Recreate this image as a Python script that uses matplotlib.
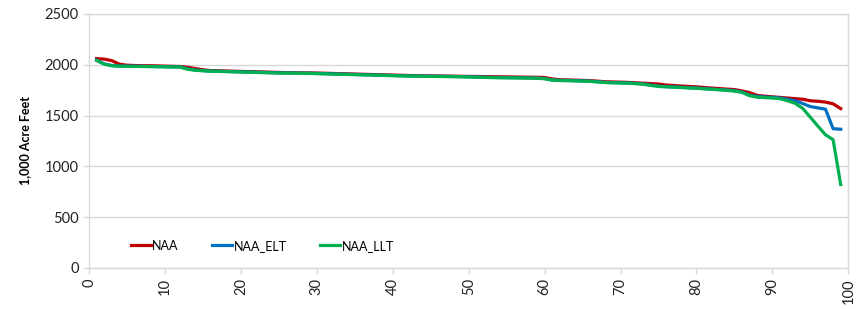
import matplotlib.pyplot as plt

# exceedance rank (1..99)
rank = list(range(1, 100))

naa = [2060, 2055, 2040, 2005, 1995, 1992, 1990, 1990, 1988, 1986,
       1984, 1982, 1975, 1962, 1950, 1942, 1940, 1938, 1936, 1934,
       1932, 1930, 1928, 1926, 1924, 1922, 1921, 1920, 1919, 1918,
       1916, 1914, 1912, 1910, 1908, 1906, 1904, 1902, 1900, 1898,
       1896, 1894, 1892, 1891, 1890, 1889, 1888, 1887, 1886, 1885,
       1884, 1883, 1882, 1881, 1880, 1879, 1878, 1877, 1876, 1874,
       1860, 1852, 1850, 1848, 1846, 1843, 1838, 1832, 1830, 1828,
       1826, 1822, 1818, 1814, 1810, 1800, 1795, 1790, 1786, 1782,
       1776, 1770, 1765, 1760, 1755, 1742, 1725, 1698, 1690, 1684,
       1678, 1672, 1666, 1660, 1645, 1640, 1632, 1615, 1568]

naa_elt = [2045, 2008, 1992, 1987, 1986, 1985, 1984, 1983, 1982, 1980,
           1979, 1978, 1960, 1948, 1942, 1938, 1936, 1934, 1932, 1930,
           1928, 1926, 1924, 1922, 1920, 1919, 1918, 1917, 1916, 1914,
           1912, 1910, 1908, 1906, 1904, 1902, 1900, 1898, 1896, 1894,
           1892, 1890, 1889, 1888, 1887, 1886, 1885, 1884, 1883, 1881,
           1879, 1877, 1875, 1874, 1873, 1872, 1871, 1870, 1868, 1864,
           1850, 1846, 1845, 1843, 1841, 1838, 1832, 1826, 1824, 1822,
           1820, 1816, 1810, 1800, 1790, 1785, 1782, 1778, 1774, 1770,
           1765, 1760, 1755, 1750, 1745, 1732, 1700, 1688, 1682, 1678,
           1672, 1660, 1645, 1618, 1588, 1575, 1562, 1370, 1365]

naa_llt = [2042, 2005, 1990, 1985, 1984, 1983, 1982, 1981, 1980, 1979,
           1978, 1977, 1955, 1945, 1940, 1936, 1934, 1932, 1930, 1928,
           1926, 1924, 1922, 1920, 1918, 1917, 1916, 1915, 1914, 1912,
           1910, 1908, 1906, 1904, 1902, 1900, 1898, 1896, 1894, 1892,
           1890, 1888, 1887, 1886, 1885, 1884, 1883, 1882, 1881, 1879,
           1877, 1875, 1873, 1872, 1871, 1870, 1869, 1868, 1866, 1862,
           1848, 1844, 1843, 1841, 1839, 1836, 1830, 1824, 1822, 1820,
           1818, 1814, 1808, 1796, 1786, 1782, 1779, 1775, 1771, 1768,
           1763, 1758, 1753, 1748, 1740, 1728, 1695, 1680, 1676, 1672,
           1665, 1645, 1620, 1570, 1483, 1395, 1310, 1262, 820]

series = [("NAA", naa, "#C00000"),
          ("NAA_ELT", naa_elt, "#0070C0"),
          ("NAA_LLT", naa_llt, "#00B050")]

plt.rcParams['font.family'] = ['Lato', 'DejaVu Sans']

fig = plt.figure(figsize=(8.56, 3.09), dpi=100)
ax = fig.add_axes([0.104, 0.133, 0.887, 0.822])

for name, vals, col in series:
    ax.plot(rank, vals, color=col, lw=2.3, label=name, solid_joinstyle='round')

ax.set_xlim(0, 100)
ax.set_ylim(0, 2500)
ax.set_xticks(range(0, 101, 10))
ax.set_yticks(range(0, 2501, 500))
ax.tick_params(axis='x', labelrotation=90, labelsize=10.5, colors='#D9D9D9',
               labelcolor='#222222', length=4, width=1)
ax.tick_params(axis='y', labelsize=10.5, colors='#D9D9D9',
               labelcolor='#222222', length=4, width=1)
ax.grid(axis='y', color='#D9D9D9', lw=1)
ax.set_axisbelow(True)
for s in ax.spines.values():
    s.set_color('#D9D9D9')
    s.set_linewidth(1)

ax.set_ylabel("1,000 Acre Feet", fontsize=9, fontweight='bold', labelpad=10)

ax.legend(loc='lower left', bbox_to_anchor=(0.04, 0.02), ncol=3, frameon=False,
          fontsize=9, handlelength=1.6, handletextpad=0.1, columnspacing=2.7)

fig.savefig("out.png", dpi=100)
